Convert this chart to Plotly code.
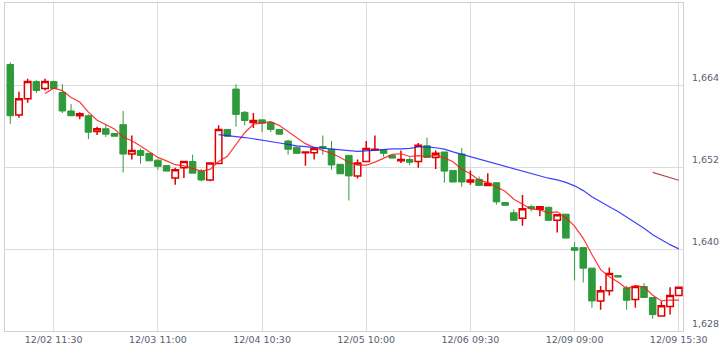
import plotly.graph_objects as go
import pandas as pd

days = ["12/02", "12/03", "12/04", "12/05", "12/06", "12/09"]
times = ["09:00", "09:30", "10:00", "10:30", "11:00", "11:30", "12:30",
         "13:00", "13:30", "14:00", "14:30", "15:00", "15:30"]
categories = [f"{d} {t}" for d in days for t in times]

opens = [1667.0, 1659.6, 1662.0, 1664.5, 1663.5, 1664.5, 1662.9, 1660.2, 1659.5, 1659.5,
         1657.2, 1657.6, 1656.9, 1658.2, 1653.9, 1654.4, 1654.0, 1653.0, 1652.2, 1650.4,
         1651.9, 1652.8, 1651.4, 1650.1, 1652.5, 1657.5, 1663.4, 1660.0, 1658.5, 1658.9,
         1658.5, 1657.5, 1655.8, 1654.9, 1654.1, 1654.1, 1655.0, 1654.6, 1652.4, 1653.7,
         1650.7, 1652.8, 1654.5, 1654.5, 1653.7, 1652.9, 1653.1, 1652.8, 1655.1, 1653.4,
         1654.2, 1651.5, 1653.9, 1649.8, 1650.2, 1649.3, 1649.7, 1646.8, 1645.3, 1644.5,
         1646.2, 1645.8, 1646.1, 1644.2, 1645.1, 1640.2, 1640.2, 1637.2, 1632.4, 1633.9,
         1636.1, 1634.3, 1632.6, 1634.5, 1632.9, 1630.2, 1631.6, 1633.2]
highs = [1667.3, 1663.0, 1664.9, 1664.7, 1664.9, 1664.5, 1664.1, 1661.2, 1660.0, 1659.7,
         1657.9, 1658.2, 1656.9, 1660.2, 1656.6, 1654.7, 1654.0, 1653.1, 1652.2, 1651.9,
         1652.8, 1653.8, 1651.7, 1652.6, 1658.1, 1657.5, 1664.1, 1660.2, 1659.9, 1658.9,
         1658.5, 1657.5, 1656.0, 1655.0, 1654.2, 1654.7, 1656.6, 1655.8, 1652.4, 1653.7,
         1653.1, 1655.8, 1656.6, 1654.5, 1653.7, 1654.4, 1653.4, 1655.5, 1656.3, 1654.4,
         1654.2, 1651.5, 1654.8, 1651.5, 1650.6, 1651.1, 1649.7, 1646.8, 1645.8, 1647.9,
         1646.5, 1646.2, 1646.2, 1645.0, 1645.1, 1641.0, 1640.2, 1637.2, 1634.6, 1637.3,
         1636.1, 1634.6, 1634.7, 1635.0, 1632.9, 1632.3, 1634.4, 1634.4]
lows = [1658.3, 1659.2, 1661.4, 1662.8, 1663.2, 1663.5, 1659.9, 1659.5, 1659.0, 1656.1,
        1656.7, 1656.4, 1656.5, 1651.2, 1653.1, 1652.5, 1652.9, 1651.6, 1651.4, 1649.4,
        1650.4, 1651.1, 1649.9, 1649.9, 1652.5, 1656.5, 1657.9, 1658.1, 1657.7, 1657.1,
        1657.1, 1656.8, 1653.8, 1654.0, 1652.2, 1653.1, 1653.8, 1651.6, 1651.0, 1647.1,
        1650.3, 1652.8, 1654.5, 1653.5, 1653.3, 1652.6, 1652.3, 1651.9, 1653.4, 1651.7,
        1649.7, 1649.8, 1649.1, 1649.4, 1649.3, 1649.3, 1646.5, 1646.4, 1644.2, 1643.4,
        1645.5, 1644.8, 1644.2, 1642.4, 1641.6, 1635.4, 1635.1, 1631.4, 1631.1, 1633.2,
        1635.9, 1631.1, 1631.4, 1632.9, 1629.8, 1630.2, 1630.4, 1633.2]
closes = [1659.5, 1662.0, 1664.5, 1663.2, 1664.5, 1663.5, 1660.2, 1659.5, 1659.8, 1657.1,
          1657.6, 1656.8, 1656.5, 1653.9, 1654.4, 1653.7, 1652.9, 1652.1, 1651.4, 1651.6,
          1652.8, 1651.1, 1650.1, 1652.6, 1657.5, 1656.5, 1659.7, 1658.8, 1658.8, 1658.4,
          1657.5, 1656.8, 1654.6, 1654.0, 1654.2, 1654.7, 1654.8, 1652.3, 1651.0, 1650.7,
          1652.6, 1654.7, 1654.6, 1654.0, 1653.3, 1653.1, 1652.7, 1655.2, 1653.4, 1654.0,
          1651.4, 1649.8, 1649.8, 1650.1, 1649.3, 1649.6, 1646.9, 1646.4, 1644.2, 1645.9,
          1645.9, 1646.2, 1644.2, 1645.0, 1641.6, 1639.8, 1637.2, 1632.4, 1633.9, 1636.4,
          1635.9, 1632.5, 1634.5, 1632.9, 1630.4, 1631.7, 1633.2, 1634.4]

ma_periods = [5, 25, 75]
ma_colors = ["rgba(255,20,20,0.85)", "rgba(30,30,255,0.85)", "rgba(170,40,40,0.85)"]

y_ticks = [1628, 1640, 1652, 1664]
tick_idx = list(range(5, len(categories), 12))

close_s = pd.Series(closes)

fig = go.Figure()
fig.add_trace(go.Candlestick(
    x=categories, open=opens, high=highs, low=lows, close=closes,
    increasing=dict(line=dict(color="#e00000", width=1.5), fillcolor="#ffffff"),
    decreasing=dict(line=dict(color="#2e9a3a", width=1), fillcolor="#2e9a3a"),
    whiskerwidth=0, hoverinfo="skip", showlegend=False,
))
for p, c in zip(ma_periods, ma_colors):
    ma = close_s.rolling(p).mean()
    fig.add_trace(go.Scatter(x=categories, y=ma, mode="lines",
                             line=dict(color=c, width=1.2), hoverinfo="skip",
                             showlegend=False))

fnt = dict(family="DejaVu Sans", size=9.5, color="#596070")
fig.update_layout(
    width=726, height=357,
    margin=dict(l=5, r=43, t=3, b=26),
    paper_bgcolor="white", plot_bgcolor="white",
    boxgap=0.25, boxgroupgap=0,
    hovermode=False,
    xaxis=dict(
        type="category", range=[-0.61, 77.49],
        tickvals=[categories[i] for i in tick_idx],
        ticktext=[categories[i] for i in tick_idx],
        showgrid=True, gridcolor="#dcdcdc", gridwidth=1,
        showline=True, linecolor="#cfcfcf", linewidth=1, mirror=True,
        ticks="", tickfont=fnt, rangeslider=dict(visible=False),
        zeroline=False,
    ),
    yaxis=dict(
        side="right", range=[1628, 1676],
        tickvals=y_ticks, ticktext=[f"{v:,}" for v in y_ticks],
        showgrid=True, gridcolor="#dcdcdc", gridwidth=1,
        showline=True, linecolor="#cfcfcf", linewidth=1, mirror=True,
        ticks="", tickfont=fnt, ticklabelshift=-7, ticklabelstandoff=6,
        zeroline=False,
    ),
)
fig.write_html("out.html")
